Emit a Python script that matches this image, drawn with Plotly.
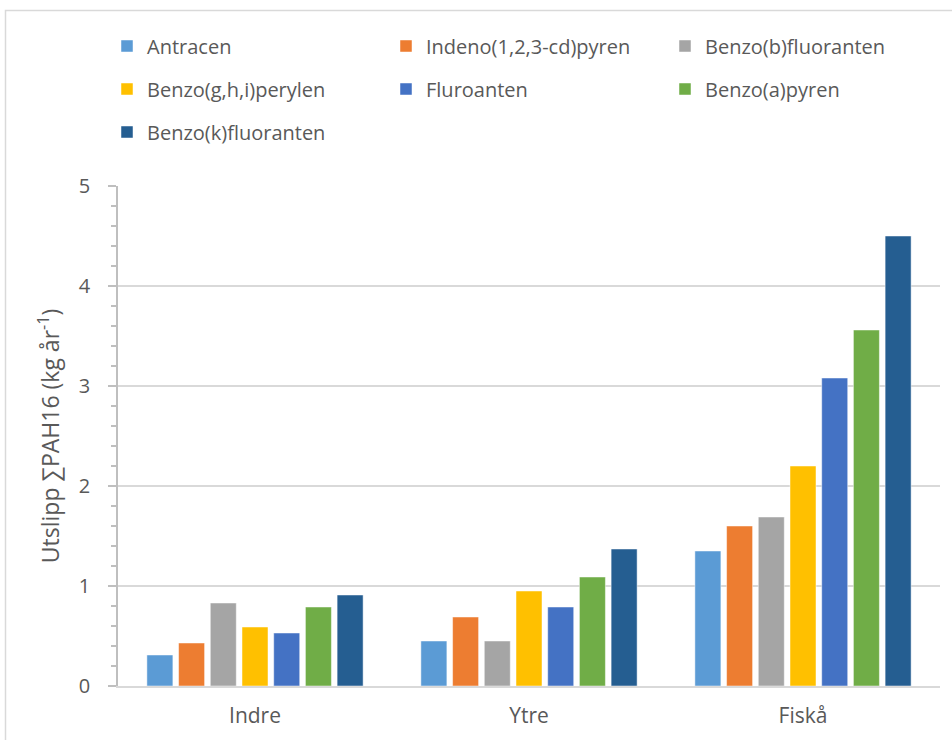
import plotly.graph_objects as go

# Utslipp av PAH-forbindelser per område (kg/år)
områder = ["Indre", "Ytre", "Fiskå"]

antracen = [0.31, 0.45, 1.35]
indeno_pyren = [0.43, 0.69, 1.60]
benzo_b_fluoranten = [0.83, 0.45, 1.69]
benzo_ghi_perylen = [0.59, 0.95, 2.20]
fluroanten = [0.53, 0.79, 3.08]
benzo_a_pyren = [0.79, 1.09, 3.56]
benzo_k_fluoranten = [0.91, 1.37, 4.50]

serier = [
    ("Antracen", antracen, "#5B9BD5", "legend"),
    ("Indeno(1,2,3-cd)pyren", indeno_pyren, "#ED7D31", "legend"),
    ("Benzo(b)fluoranten", benzo_b_fluoranten, "#A5A5A5", "legend"),
    ("Benzo(g,h,i)perylen", benzo_ghi_perylen, "#FFC000", "legend2"),
    ("Fluroanten", fluroanten, "#4472C4", "legend2"),
    ("Benzo(a)pyren", benzo_a_pyren, "#70AD47", "legend2"),
    ("Benzo(k)fluoranten", benzo_k_fluoranten, "#255E91", "legend3"),
]

FONT = "Open Sans"
GRÅ = "#595959"

fig = go.Figure()
for navn, verdier, farge, leg in serier:
    fig.add_trace(go.Bar(
        x=områder, y=verdier, name=navn, legend=leg,
        marker=dict(color=farge, line=dict(color="rgba(255,255,255,0.6)", width=0.8)),
    ))

L, R, T, B = 118, 12, 186, 54
W, H = 952, 740
pw, ph = W - L - R, H - T - B

def leg_y(py):
    return (H - B - py) / ph

# one legend per row; entrywidth excludes the symbol area, so the column pitch is ~283 px
leg_common = dict(
    orientation="h", xanchor="left", yanchor="middle",
    x=(107 - L) / pw, entrywidth=234, entrywidthmode="pixels",
    font=dict(family=FONT, size=20, color=GRÅ), bgcolor="rgba(0,0,0,0)",
    itemclick=False, itemdoubleclick=False,
)

fig.update_layout(
    width=W, height=H,
    margin=dict(l=L, r=R, t=T, b=B, autoexpand=False),
    paper_bgcolor="white", plot_bgcolor="white",
    barmode="group", bargap=0.19, bargroupgap=0.18,
    font=dict(family=FONT, color=GRÅ),
    legend=dict(y=leg_y(46), **leg_common),
    legend2=dict(y=leg_y(89), **leg_common),
    legend3=dict(y=leg_y(132), **leg_common),
    xaxis=dict(
        showline=True, linecolor="#D9D9D9", linewidth=1.5,
        ticks="", showgrid=False,
        tickfont=dict(family=FONT, size=21, color=GRÅ),
        ticklabelstandoff=10,
    ),
    yaxis=dict(
        range=[0, 5], dtick=1, showgrid=True, gridcolor="#D9D9D9", gridwidth=1.5,
        zeroline=False, showline=True, linecolor="#BFBFBF", linewidth=1.5,
        ticks="outside", ticklen=8, tickcolor="#BFBFBF", tickwidth=1.5,
        minor=dict(dtick=0.2, ticks="outside", ticklen=5, tickcolor="#BFBFBF",
                   tickwidth=1.5, showgrid=False),
        tickfont=dict(family=FONT, size=20, color=GRÅ),
        ticklabelstandoff=14,
        title=dict(text="Utslipp ∑PAH16 (kg år<sup>-1</sup>)",
                   font=dict(family=FONT, size=23, color=GRÅ), standoff=13),
    ),
    shapes=[dict(
        type="rect", xref="paper", yref="paper",
        x0=(5.5 - L) / pw, x1=(W + 20 - L) / pw,
        y0=(H - B - (H + 20)) / ph, y1=(H - B - 10.5) / ph,
        line=dict(color="#D9D9D9", width=1.5), fillcolor="rgba(0,0,0,0)", layer="below",
    )],
)

fig.write_html("out.html")
